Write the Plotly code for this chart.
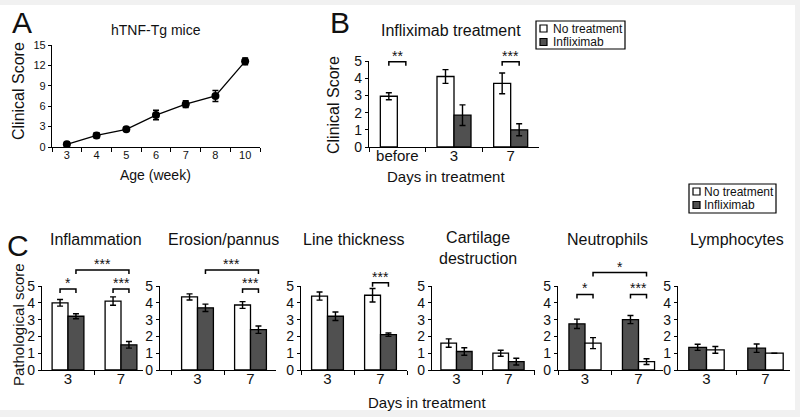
import plotly.graph_objects as go

# ---------------- data ----------------
# Panel A: hTNF-Tg mice clinical score by age
a_ages = ["3", "4", "5", "6", "7", "8", "10"]
a_score = [0.4, 1.7, 2.6, 4.7, 6.3, 7.5, 12.6]
a_score_err = [0.3, 0.4, 0.3, 0.7, 0.5, 0.8, 0.5]

# Panel B: Infliximab treatment
b_days = ["before", "3", "7"]
b_no_treat = [2.95, 4.1, 3.7]
b_no_treat_err = [0.2, 0.4, 0.6]
b_infliximab = [None, 1.85, 1.0]
b_infliximab_err = [0, 0.6, 0.35]
b_sig = [(-0.15, 0.15, 4.95, "**"), (1.85, 2.15, 4.95, "***")]

# Panel C: pathological scores
c_days = ["3", "7"]
c_titles = ["Inflammation", "Erosion/pannus", "Line thickness",
            "Cartilage<br>destruction", "Neutrophils", "Lymphocytes"]
c_no_treat = [[4.0, 4.1], [4.35, 3.87], [4.4, 4.45], [1.6, 1.0], [1.6, 0.5], [1.2, 1.0]]
c_no_treat_err = [[0.2, 0.25], [0.18, 0.2], [0.24, 0.4], [0.25, 0.18], [0.33, 0.17], [0.2, 0.0]]
c_infliximab = [[3.2, 1.5], [3.7, 2.4], [3.2, 2.1], [1.1, 0.5], [2.75, 3.0], [1.35, 1.3]]
c_infliximab_err = [[0.15, 0.2], [0.22, 0.22], [0.25, 0.1], [0.22, 0.2], [0.28, 0.24], [0.18, 0.25]]
c_sig = [
    [(-0.15, 0.15, 4.82, "*"), (0.15, 1.15, 5.95, "***"), (0.85, 1.15, 4.82, "***")],
    [(0.15, 1.15, 5.95, "***"), (0.85, 1.15, 4.82, "***")],
    [(0.85, 1.15, 5.2, "***")],
    [],
    [(-0.15, 0.15, 4.5, "*"), (0.15, 1.15, 5.8, "*"), (0.85, 1.15, 4.5, "***")],
    [],
]

# ---------------- style / layout ----------------
W, H = 800, 417
FONT = "Liberation Sans, Arial, Helvetica, sans-serif"
TXT = "#111111"
WHITE_FILL = "#ffffff"
DARK_FILL = "#505050"
DARK_FIRST = [False, False, False, False, True, True]

fig = go.Figure()
axes = {}


def add_axes(idx, x0, x1, ybot, ytop, xrange, yrange, ytickvals, xfs, yfs, xstand):
    xa = "xaxis" if idx == 1 else f"xaxis{idx}"
    ya = "yaxis" if idx == 1 else f"yaxis{idx}"
    xn = "x" if idx == 1 else f"x{idx}"
    yn = "y" if idx == 1 else f"y{idx}"
    fig.update_layout(**{
        xa: dict(domain=[x0 / W, x1 / W], anchor=yn, type="category", range=xrange,
                 tickson="boundaries", ticks="outside", ticklen=4, tickwidth=1.2,
                 tickcolor="black", showline=True, linecolor="black", linewidth=1.3,
                 showgrid=False, zeroline=False, ticklabelstandoff=xstand,
                 tickfont=dict(size=xfs, color=TXT)),
        ya: dict(domain=[1 - ybot / H, 1 - ytop / H], anchor=xn, range=yrange,
                 tickvals=ytickvals, ticks="outside", ticklen=3, tickwidth=1.2,
                 tickcolor="black", showline=True, linecolor="black", linewidth=1.3,
                 showgrid=False, zeroline=False, tickfont=dict(size=yfs, color=TXT)),
    })
    axes[idx] = (x0, x1, ybot, ytop, xrange, yrange, xn, yn)


def to_paper(idx, xv, yv):
    x0, x1, ybot, ytop, xr, yr, _, _ = axes[idx]
    px = x0 + (xv - xr[0]) / (xr[1] - xr[0]) * (x1 - x0)
    py = ybot - (yv - yr[0]) / (yr[1] - yr[0]) * (ybot - ytop)
    return px / W, 1 - py / H


shapes = []
annotations = []


def text(x, y, s, size, xanchor="center", yanchor="middle", angle=0):
    annotations.append(dict(x=x / W, y=1 - y / H, xref="paper", yref="paper", text=s,
                            showarrow=False, xanchor=xanchor, yanchor=yanchor,
                            textangle=angle, font=dict(size=size, color=TXT, family=FONT)))


def bracket(idx, xa, xb, yv, label):
    px0, py = to_paper(idx, xa, yv)
    px1, _ = to_paper(idx, xb, yv)
    hook = 4 / H
    shapes.append(dict(type="path", xref="paper", yref="paper",
                       path=f"M {px0},{py - hook} L {px0},{py} L {px1},{py} L {px1},{py - hook}",
                       line=dict(color="black", width=1.5)))
    annotations.append(dict(x=(px0 + px1) / 2, y=py - 4 / H, xref="paper", yref="paper",
                            text=label, showarrow=False, xanchor="center", yanchor="bottom",
                            font=dict(size=14, color=TXT, family=FONT)))


def legend(x0, y0, x1, y1, ysq, xtext):
    shapes.append(dict(type="rect", xref="paper", yref="paper", x0=x0 / W, x1=x1 / W,
                       y0=1 - y1 / H, y1=1 - y0 / H, line=dict(color="black", width=1.2),
                       fillcolor="white"))
    for yy, fill, lab in zip(ysq, [WHITE_FILL, DARK_FILL], ["No treatment", "Infliximab"]):
        shapes.append(dict(type="rect", xref="paper", yref="paper",
                           x0=(x0 + 4) / W, x1=(x0 + 11) / W, y0=1 - (yy + 3.5) / H,
                           y1=1 - (yy - 3.5) / H, line=dict(color="black", width=1.2),
                           fillcolor=fill))
        text(xtext, yy, lab, 12, xanchor="left")


def err(arr):
    return dict(type="data", array=arr, color="black", thickness=1.4, width=3)


# ---- Panel A ----
add_axes(1, 52, 260, 147, 45, [-0.5, 6.5], [0, 15], [0, 3, 6, 9, 12, 15], 11, 11, -2)
fig.add_trace(go.Scatter(x=a_ages, y=a_score, mode="lines+markers", xaxis="x", yaxis="y",
                         line=dict(color="black", width=1.3),
                         marker=dict(color="black", size=8),
                         error_y=err(a_score_err), showlegend=False))
text(22, 23, "A", 30)
text(156, 30, "hTNF-Tg mice", 14)
text(155, 175, "Age (week)", 14)
text(19, 91, "Clinical Score", 16, angle=-90)

# ---- Panel B ----
add_axes(2, 369, 539, 147, 61, [-0.5, 2.5], [0, 5], [0, 1, 2, 3, 4, 5], 15, 14, -5)
fig.add_trace(go.Bar(x=b_days, y=b_no_treat, xaxis="x2", yaxis="y2",
                     marker=dict(color=WHITE_FILL, line=dict(color="black", width=1.3)),
                     error_y=err(b_no_treat_err), showlegend=False))
fig.add_trace(go.Bar(x=b_days, y=b_infliximab, xaxis="x2", yaxis="y2",
                     marker=dict(color=DARK_FILL, line=dict(color="black", width=1.3)),
                     error_y=err(b_infliximab_err), showlegend=False))
for s in b_sig:
    bracket(2, *s)
text(340, 23, "B", 30)
text(451, 30, "Infliximab treatment", 16)
text(446, 176, "Days in treatment", 15)
text(333, 105, "Clinical Score", 16, angle=-90)
legend(536, 21, 625, 49, [28.5, 42], 551)

# ---- Panel C ----
c_geom = [(42, 143, 68, 53), (160, 276, 197.5, 53), (301, 407, 327.5, 53),
          (432, 535, 456.5, 52), (558, 663, 585, 53.5), (678, 790, 706.5, 59)]
c_title_x = [96, 223, 353, 478, 607, 737]
for i in range(6):
    idx = i + 3
    x0, x1, c0, s = c_geom[i]
    add_axes(idx, x0, x1, 370, 286, [(x0 - c0) / s, (x1 - c0) / s], [0, 5],
             [0, 1, 2, 3, 4, 5], 15, 14, -5)
    xn, yn = axes[idx][6], axes[idx][7]
    white = go.Bar(x=c_days, y=c_no_treat[i], xaxis=xn, yaxis=yn,
                   marker=dict(color=WHITE_FILL, line=dict(color="black", width=1.3)),
                   error_y=err(c_no_treat_err[i]), showlegend=False)
    dark = go.Bar(x=c_days, y=c_infliximab[i], xaxis=xn, yaxis=yn,
                  marker=dict(color=DARK_FILL, line=dict(color="black", width=1.3)),
                  error_y=err(c_infliximab_err[i]), showlegend=False)
    for tr in ([dark, white] if DARK_FIRST[i] else [white, dark]):
        fig.add_trace(tr)
    for sg in c_sig[i]:
        bracket(idx, *sg)
    ty = 248 if "<br>" in c_titles[i] else 239
    text(c_title_x[i], ty, c_titles[i], 16)
text(18, 245, "C", 30)
text(18, 325, "Pathological score", 15, angle=-90)
text(427, 402, "Days in treatment", 15)
legend(689, 184, 776, 213, [191.5, 205], 702)

# page frame
shapes.insert(0, dict(type="rect", xref="paper", yref="paper", x0=0, x1=795 / W,
                      y0=1 - 410 / H, y1=1 - 5 / H, line=dict(width=0),
                      fillcolor="white", layer="below"))

fig.update_layout(
    width=W, height=H, margin=dict(l=0, r=0, t=0, b=0), template="none",
    paper_bgcolor="#f1f1f1", plot_bgcolor="rgba(0,0,0,0)",
    font=dict(family=FONT, color=TXT),
    barmode="group", bargap=0.4, bargroupgap=0,
    shapes=shapes, annotations=annotations, showlegend=False,
)

fig.write_html("out.html", config={"displayModeBar": False},
               post_script="document.body.style.margin='0';")
